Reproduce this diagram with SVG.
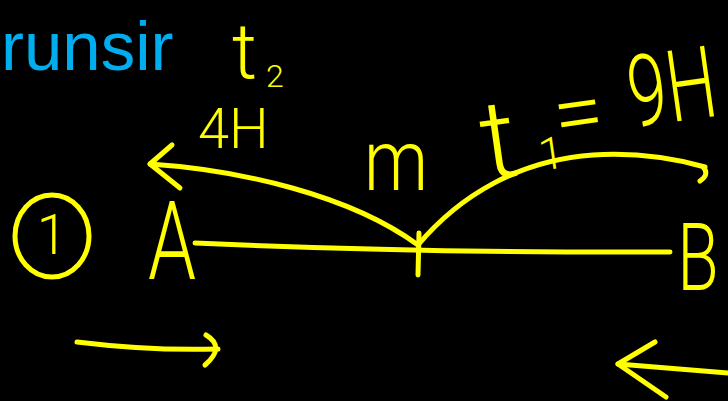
<svg xmlns="http://www.w3.org/2000/svg" width="728" height="401" viewBox="0 0 728 401">
<style>
.ink{fill:none;stroke:#FFFF00;stroke-width:5;stroke-linecap:round;stroke-linejoin:round}
.hw{fill:#FFFF00;font-family:Roboto,"Liberation Sans",sans-serif;font-weight:300}
.brand{fill:#00AEEF;font-family:"Liberation Sans",Arial,sans-serif;font-size:69px}
</style>
<rect x="0" y="0" width="728" height="401" fill="#000"/>
<text class="brand" x="1" y="70">runsir</text>
<g id="label-t2">
<text class="hw" x="232" y="78" font-size="78">t</text>
<text class="hw" x="266" y="87" font-size="32">2</text>
</g>
<g id="label-4H">
<text class="hw" x="198" y="148" font-size="56">4H</text>
</g>
<g id="label-t1">
<g transform="rotate(-8 600 110)">
<text class="hw" x="478" y="163" font-size="110">t</text>
<text class="hw" x="533" y="162" font-size="45">1</text>
<text class="hw" x="553" y="140" font-size="90">=</text>
<text class="hw" transform="translate(630 132) scale(0.7 1)" font-size="100">9H</text>
</g>
</g>
<g id="node-1">
<ellipse class="ink" cx="52" cy="236" rx="37" ry="41"/>
<text class="hw" x="52" y="254" font-size="55" text-anchor="middle">1</text>
</g>
<g id="node-A">
<text class="hw" transform="translate(172 279) scale(0.7 1)" font-size="110" text-anchor="middle">A</text>
</g>
<g id="node-M">
<text class="hw" transform="translate(364 190) scale(0.85 1)" font-size="85">m</text>
</g>
<g id="node-B">
<text class="hw" transform="translate(698 290) scale(0.72 1)" font-size="94" text-anchor="middle">B</text>
</g>
<g id="connectors">
<path class="ink" d="M195,243 Q420,253 670,252"/>
<path class="ink" d="M419,233 L418,275"/>
<path class="ink" d="M150,164 C240,170 350,195 418,245"/>
<path class="ink" d="M172,145 L150,164 L180,188"/>
<path class="ink" d="M418,245 C460,195 520,160 593,155 C640,152 680,160 705,167"/>
<path class="ink" d="M703,167 Q710,174 700,181"/>
<path class="ink" d="M77,342 Q150,351 218,349"/>
<path class="ink" d="M206,335 Q226,347 205,365"/>
<path class="ink" d="M728,373 L618,364"/>
<path class="ink" d="M655,342 L618,364 L666,397"/>
</g>
</svg>
